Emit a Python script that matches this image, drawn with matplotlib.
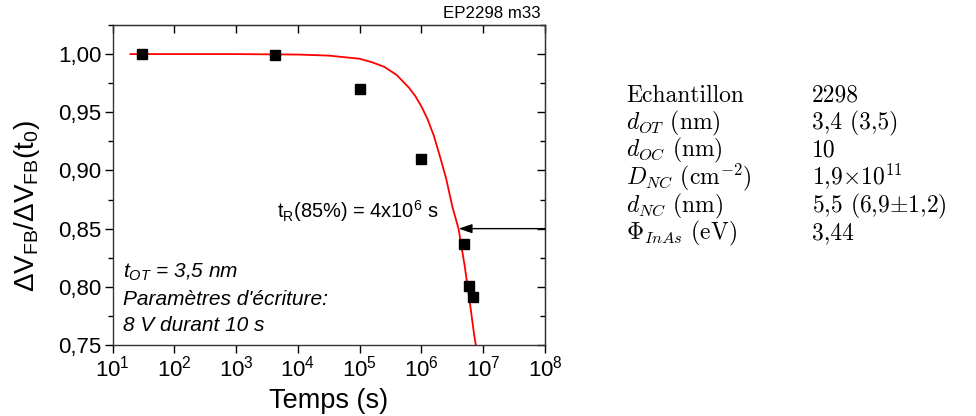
import matplotlib
matplotlib.use('Agg')
import matplotlib.pyplot as plt
import matplotlib.ticker as ticker
import numpy as np

plt.rcParams['font.family'] = ['Liberation Sans', 'DejaVu Sans']
plt.rcParams['mathtext.fontset'] = 'custom'
plt.rcParams['mathtext.rm'] = 'Liberation Sans'
plt.rcParams['mathtext.it'] = 'Liberation Sans:italic'
plt.rcParams['mathtext.bf'] = 'Liberation Sans:bold'

# points mesures
temps = [30, 4.2e3, 1e5, 1e6, 4.8e6, 5.8e6, 6.8e6]
ratio = [1.000, 0.999, 0.970, 0.910, 0.837, 0.801, 0.791]

# courbe d'ajustement (log10 du temps)
fit_logt = [1.29, 2.0, 3.0, 4.0, 4.5, 5.0, 5.2, 5.4, 5.6, 5.8, 5.9, 6.0,
            6.1, 6.2, 6.3, 6.4, 6.5, 6.6, 6.7, 6.8, 6.85, 6.88]
fit_ratio = [1.000, 1.000, 1.000, 0.9996, 0.9987, 0.996, 0.993, 0.989,
             0.982, 0.971, 0.964, 0.955, 0.944, 0.930, 0.912, 0.893, 0.869,
             0.850, 0.818, 0.780, 0.760, 0.750]

x_ticks = [1e1, 1e2, 1e3, 1e4, 1e5, 1e6, 1e7, 1e8]
x_labels = [r'$10^{%d}$' % k for k in range(1, 9)]
y_ticks = [0.75, 0.80, 0.85, 0.90, 0.95, 1.00]
y_labels = ['0,75', '0,80', '0,85', '0,90', '0,95', '1,00']

t_r = 4e6
niveau = 0.85

table_names = ['Echantillon', r'$d_{OT}$ (nm)', r'$d_{OC}$ (nm)',
               r'$D_{NC}$ (cm$^{-2}$)', r'$d_{NC}$ (nm)', r'$\Phi_{InAs}$ (eV)']
table_values = ['2298', '3,4 (3,5)', '10', r'1,9$\times$10$^{11}$',
                r'5,5 (6,9$\pm$1,2)', '3,44']

fig = plt.figure(figsize=(9.76, 4.16), dpi=100)
ax = fig.add_axes([0.1153, 0.1707, 0.4431, 0.7692])

ax.plot(10 ** np.array(fit_logt), fit_ratio, color='red', lw=1.3, zorder=2)
ax.plot(temps, ratio, 's', color='black', ms=7, zorder=3)

ax.set_xscale('log')
ax.set_xlim(1e1, 1e8)
ax.set_ylim(0.75, 1.025)

ax.set_xticks(x_ticks)
ax.set_xticklabels(x_labels)
ax.xaxis.set_minor_locator(ticker.NullLocator())
ax.set_yticks(y_ticks)
ax.set_yticklabels(y_labels)
ax.yaxis.set_minor_locator(ticker.MultipleLocator(0.025))

ax.tick_params(axis='both', which='major', direction='out', length=6,
               width=1, labelsize=16, pad=2)
ax.tick_params(axis='both', which='minor', direction='out', length=3.5,
               width=1)
for sp in ax.spines.values():
    sp.set_linewidth(1.0)
    sp.set_color('#333333')

# ticks vers l'interieur en haut et a droite
top = ax.secondary_xaxis('top')
top.set_xticks(x_ticks)
top.set_xticklabels([])
top.xaxis.set_minor_locator(ticker.NullLocator())
top.tick_params(direction='in', length=6, width=1)
right = ax.secondary_yaxis('right')
right.set_yticks(y_ticks)
right.set_yticklabels([])
right.yaxis.set_minor_locator(ticker.MultipleLocator(0.025))
right.tick_params(which='major', direction='in', length=6, width=1)
right.tick_params(which='minor', direction='in', length=3.5, width=1)

ax.set_xlabel('Temps (s)', fontsize=19.5, labelpad=4)
ax.set_ylabel(r'ΔV$_{\mathrm{FB}}$/ΔV$_{\mathrm{FB}}$(t$_{0}$)', fontsize=20)
ax.yaxis.set_label_coords(-0.163, 0.434)

ax.annotate('', xy=(t_r, niveau), xytext=(1e8, niveau),
            arrowprops=dict(arrowstyle='-|>,head_length=0.5,head_width=0.17',
                            color='black', lw=1, mutation_scale=16,
                            shrinkA=0, shrinkB=0))
ax.text(0.380, 0.397, r't$_{\mathrm{R}}$(85%) = 4x10$^{6}$ s', transform=ax.transAxes,
        fontsize=14.4, va='baseline')

ax.text(0.024, 0.209, r'$t_{OT}$ = 3,5 nm', transform=ax.transAxes,
        fontsize=15, style='italic', va='baseline')
ax.text(0.024, 0.125, "Paramètres d'écriture:", transform=ax.transAxes,
        fontsize=15, style='italic', va='baseline')
ax.text(0.024, 0.044, '8 V durant 10 s', transform=ax.transAxes,
        fontsize=15, style='italic', va='baseline')

fig.text(0.5543, 0.956, 'EP2298 m33', ha='right', va='baseline', fontsize=12.2)

for i, (nom, val) in enumerate(zip(table_names, table_values)):
    yy = 1 - (101.7 + 27.6 * i) / 416
    fig.text(0.6414, yy, nom, fontsize=17, family='cmr10',
             math_fontfamily='cm', va='baseline')
    fig.text(0.8317, yy, val, fontsize=17, family='cmr10',
             math_fontfamily='cm', va='baseline')

fig.savefig('out.png', dpi=100)
